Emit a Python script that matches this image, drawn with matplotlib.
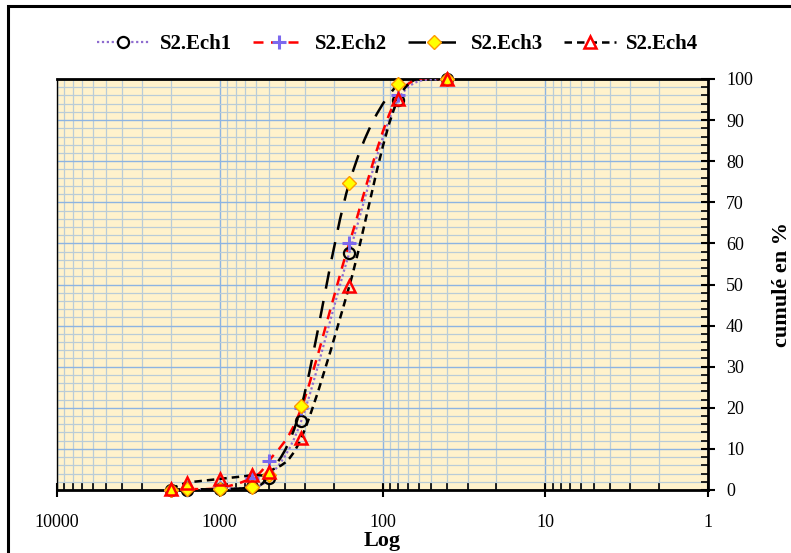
import matplotlib
matplotlib.use("Agg")
import matplotlib.pyplot as plt
import numpy as np
from matplotlib.path import Path
from matplotlib.patches import PathPatch, Rectangle
from matplotlib.lines import Line2D
from matplotlib.ticker import FixedLocator, LogLocator, NullFormatter

# ---- data ----
sizes = [2000, 1600, 1000, 630, 500, 315, 160, 80, 40]
ech1 = [0.0, 0.0, 0.3, 0.8, 3.0, 16.9, 57.7, 95.0, 100.0]
ech2 = [0.0, 0.2, 0.5, 3.0, 7.0, 20.0, 60.0, 96.0, 100.0]
ech3 = [0.0, 0.2, 0.2, 0.8, 3.7, 20.4, 74.7, 98.8, 100.0]
ech4 = [0.2, 1.7, 2.7, 3.6, 4.4, 12.7, 49.6, 95.2, 100.0]
names = ["S2.Ech1", "S2.Ech2", "S2.Ech3", "S2.Ech4"]
x_ticks = [10000, 1000, 100, 10, 1]
x_ticklabels = ["10000", "1000", "100", "10", "1"]
y_ticks = list(range(0, 101, 10))

SERIF = ["Liberation Serif", "DejaVu Serif"]

def smooth_path(xs, ys):
    """Excel-like smoothed line as cubic Bezier path in log-x space."""
    u = np.log10(np.asarray(xs, float))
    y = np.asarray(ys, float)
    n = len(u)
    P = np.column_stack([u, y])
    verts = [P[0]]
    codes = [Path.MOVETO]
    for i in range(n - 1):
        p0 = P[i - 1] if i > 0 else P[i]
        p1 = P[i]
        p2 = P[i + 1]
        p3 = P[i + 2] if i + 2 < n else P[i + 1]
        c1 = p1 + (p2 - p0) / 6.0
        c2 = p2 - (p3 - p1) / 6.0
        verts += [c1, c2, p2]
        codes += [Path.CURVE4] * 3
    verts = np.array(verts)
    verts[:, 0] = 10 ** verts[:, 0]
    return Path(verts, codes)

fig = plt.figure(figsize=(7.91, 5.53), dpi=100)
ax = fig.add_axes([57 / 791, 1 - 490 / 553, (708 - 57) / 791, (490 - 79) / 553])
ax.set_facecolor("#FFF2CC")

ax.set_xscale("log")
ax.set_xlim(10000, 1)
ax.set_ylim(0, 100)

styles = [
    dict(color="#8E6CCF", ls=(0, (1, 1.2)), lw=1.6, marker="o", ms=8,
         mfc="none", mec="black", mew=1.6),
    dict(color="#FF0000", ls=(0, (4, 3)), lw=1.8, marker="+", ms=10,
         mfc="none", mec="#7B68EE", mew=2.2),
    dict(color="black", ls=(0, (7, 5)), lw=1.8, marker="D", ms=7,
         mfc="#FFFF00", mec="#FF9900", mew=1.0),
    dict(color="black", ls=(0, (3, 2)), lw=1.8, marker="^", ms=9,
         mfc="none", mec="#FF0000", mew=1.8),
]

handles = []
for vals, st, nm in zip([ech1, ech2, ech3, ech4], styles, names):
    p = PathPatch(smooth_path(sizes, vals), fill=False, edgecolor=st["color"],
                  linestyle=st["ls"], linewidth=st["lw"], transform=ax.transData,
                  zorder=3)
    ax.add_patch(p)
    ax.plot(sizes, vals, linestyle="none", marker=st["marker"], ms=st["ms"],
            mfc=st["mfc"], mec=st["mec"], mew=st["mew"], zorder=4, clip_on=False)
    handles.append(Line2D([], [], color=st["color"], linestyle=st["ls"],
                          linewidth=st["lw"], marker=st["marker"], ms=st["ms"],
                          mfc=st["mfc"] if st["mfc"] != "none" else "white",
                          mec=st["mec"], mew=st["mew"]))

# grid
ax.xaxis.set_major_locator(FixedLocator(x_ticks))
ax.xaxis.set_minor_locator(LogLocator(base=10, subs=np.arange(2, 10), numticks=20))
ax.xaxis.set_minor_formatter(NullFormatter())
ax.set_xticklabels(x_ticklabels)
ax.yaxis.set_major_locator(FixedLocator(y_ticks))
ax.yaxis.set_minor_locator(FixedLocator(np.arange(0, 101, 2)))
ax.grid(which="major", color="#8DB4E2", linewidth=1.0, zorder=0)
ax.grid(which="minor", color="#B9CCD8", linewidth=0.9, zorder=0)
ax.set_axisbelow(True)

# y axis on right
ax.yaxis.tick_right()
ax.yaxis.set_label_position("right")
ax.tick_params(axis="x", which="major", direction="inout", length=10, width=1.5,
               labelsize=13, pad=12)
ax.tick_params(axis="x", which="minor", direction="in", length=5, width=1.2)
ax.tick_params(axis="y", which="major", direction="inout", length=10, width=1.5,
               labelsize=13, pad=8, right=True, left=False)
ax.tick_params(axis="y", which="minor", direction="in", length=5, width=1.2,
               right=True, left=False)
for lab in ax.get_xticklabels() + ax.get_yticklabels():
    lab.set_fontfamily(SERIF)

for side in ["top", "bottom", "right"]:
    ax.spines[side].set_linewidth(2.0)
ax.spines["left"].set_linewidth(1.0)

ax.set_xlabel("Log", fontfamily=SERIF, fontweight="bold", fontsize=16,
              va="center")
ax.xaxis.set_label_coords((382 - 57) / 651, -(541 - 490) / 411)
ax.set_ylabel("cumulé en %", fontfamily=SERIF, fontweight="bold", fontsize=16,
              va="center")
ax.yaxis.set_label_coords((782 - 57) / 651, 0.5)

leg = fig.legend(handles=handles, labels=names, loc="center",
                 bbox_to_anchor=(398 / 791, 1 - 44 / 553), ncol=4, frameon=False,
                 handlelength=2.5, handletextpad=0.5, columnspacing=1.0,
                 prop=dict(family=SERIF, weight="bold", size=15))

fig.patches.append(Rectangle((8 / 791, -0.2), 1.2, 0.2 + 1 - 6 / 553,
                             transform=fig.transFigure, fill=False,
                             edgecolor="black", linewidth=2.2))

fig.savefig("out.png", dpi=100)
